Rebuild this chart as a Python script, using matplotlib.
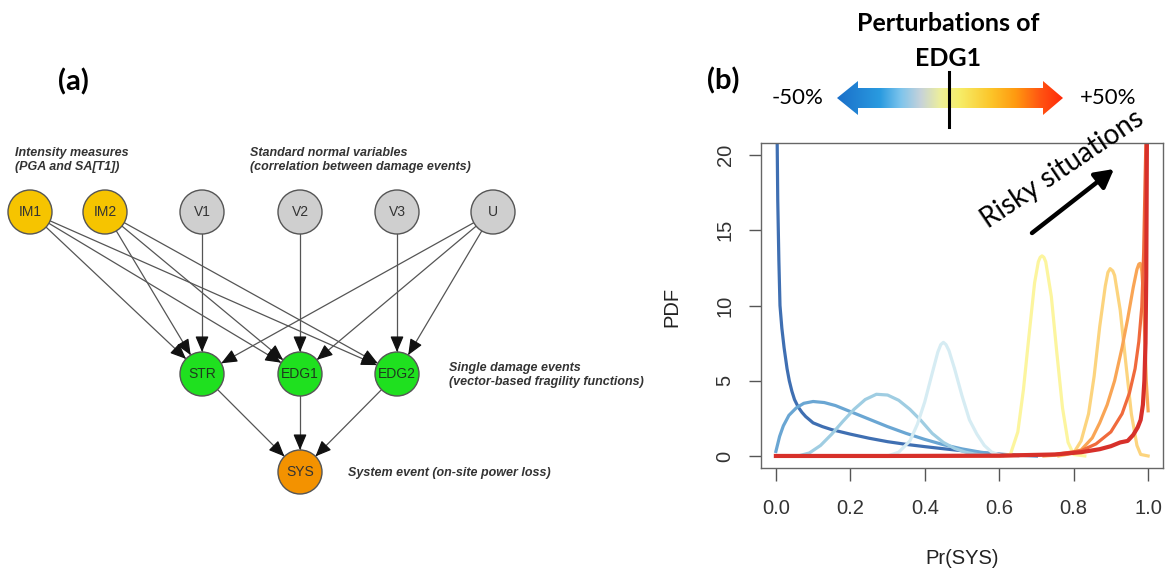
import matplotlib.pyplot as plt
import numpy as np
from matplotlib.colors import LinearSegmentedColormap
from matplotlib.patches import Circle, Polygon

plt.rcParams['font.family'] = ['Liberation Sans', 'DejaVu Sans']

# ---- (a) Bayesian network ----
node_names = ['IM1', 'IM2', 'V1', 'V2', 'V3', 'U', 'STR', 'EDG1', 'EDG2', 'SYS']
node_kind = ['im', 'im', 'snv', 'snv', 'snv', 'snv', 'dmg', 'dmg', 'dmg', 'sys']
edges = [
    ('IM1', 'STR'), ('IM1', 'EDG1'), ('IM1', 'EDG2'),
    ('IM2', 'STR'), ('IM2', 'EDG1'), ('IM2', 'EDG2'),
    ('V1', 'STR'), ('V2', 'EDG1'), ('V3', 'EDG2'),
    ('U', 'STR'), ('U', 'EDG1'), ('U', 'EDG2'),
    ('STR', 'SYS'), ('EDG1', 'SYS'), ('EDG2', 'SYS'),
]
group_notes = [
    'Intensity measures\n(PGA and SA[T1])',
    'Standard normal variables\n(correlation between damage events)',
    'Single damage events\n(vector-based fragility functions)',
    'System event (on-site power loss)',
]

# ---- (b) PDF of Pr(SYS) for perturbations of EDG1, -50% (blue) to +50% (red) ----
pr_m50 = [0.003, 0.005, 0.008, 0.011, 0.016, 0.022, 0.03, 0.036, 0.043, 0.05, 0.06,
          0.07, 0.08, 0.1, 0.125, 0.15, 0.2, 0.25, 0.3, 0.35, 0.4, 0.45, 0.5, 0.55,
          0.6, 0.65, 0.7]
pdf_m50 = [22, 17, 13, 10, 8.5, 7.2, 5.8, 5.0, 4.3, 3.75, 3.25,
           2.9, 2.62, 2.2, 1.95, 1.75, 1.45, 1.18, 0.95, 0.77, 0.62, 0.48, 0.35, 0.22,
           0.12, 0.05, 0.0]

pr_m375 = [0.0, 0.01, 0.02, 0.035, 0.055, 0.075, 0.1, 0.13, 0.16, 0.2, 0.25, 0.3,
           0.35, 0.4, 0.45, 0.5, 0.55, 0.6, 0.65]
pdf_m375 = [0.3, 1.3, 2.0, 2.7, 3.2, 3.5, 3.62, 3.55, 3.35, 2.95, 2.45, 1.95,
            1.5, 1.1, 0.75, 0.47, 0.25, 0.1, 0.02]

pr_m25 = [0.06, 0.09, 0.12, 0.15, 0.18, 0.21, 0.24, 0.27, 0.3, 0.33, 0.36, 0.39,
          0.42, 0.45, 0.48, 0.51, 0.54, 0.57, 0.6]
pdf_m25 = [0.0, 0.2, 0.7, 1.45, 2.3, 3.1, 3.75, 4.1, 4.05, 3.7, 3.1, 2.35,
           1.5, 0.9, 0.5, 0.25, 0.1, 0.03, 0.0]

pr_m125 = [0.3, 0.33, 0.36, 0.38, 0.40, 0.42, 0.435, 0.443, 0.45, 0.457, 0.465, 0.48,
           0.50, 0.52, 0.54, 0.56, 0.58, 0.61]
pdf_m125 = [0.0, 0.25, 1.0, 2.1, 3.6, 5.5, 6.9, 7.4, 7.55, 7.4, 7.0, 5.8,
            4.0, 2.4, 1.45, 0.7, 0.25, 0.0]

pr_0 = [0.6, 0.63, 0.65, 0.665, 0.68, 0.695, 0.705, 0.71, 0.715, 0.72, 0.725, 0.74,
        0.755, 0.77, 0.785, 0.8, 0.83]
pdf_0 = [0, 0.1, 1.6, 4.4, 8.0, 11.5, 12.9, 13.2, 13.3, 13.2, 12.9, 10.6,
         6.8, 3.2, 0.9, 0.1, 0]

pr_p125 = [0.76, 0.8, 0.82, 0.84, 0.855, 0.87, 0.885, 0.892, 0.898, 0.905, 0.91,
           0.925, 0.94, 0.955, 0.97, 0.98, 1.0]
pdf_p125 = [0, 0.2, 1.0, 2.8, 5.3, 8.6, 11.3, 12.2, 12.45, 12.3, 12.0,
            9.7, 6.2, 2.8, 0.7, 0.1, 0]

pr_p25 = [0.72, 0.78, 0.82, 0.85, 0.87, 0.89, 0.91, 0.93, 0.945, 0.96, 0.97,
          0.975, 0.979, 0.983, 0.987, 0.991, 0.995, 1.0]
pdf_p25 = [0, 0.1, 0.4, 1.2, 2.2, 3.4, 5.0, 7.2, 9.1, 11.2, 12.4,
           12.75, 12.8, 12.3, 10.8, 8.0, 5.0, 3.0]

pr_p375 = [0.0, 0.6, 0.75, 0.82, 0.86, 0.9, 0.93, 0.95, 0.965, 0.975, 0.983,
           0.988, 0.992, 0.995]
pdf_p375 = [0, 0, 0.1, 0.35, 0.8, 1.6, 2.8, 4.2, 5.8, 7.6, 9.9,
            13.5, 18.5, 22]

pr_p50 = [0.0, 0.3, 0.6, 0.75, 0.82, 0.87, 0.9, 0.925, 0.945, 0.96, 0.972, 0.98,
          0.986, 0.99, 0.993, 0.995, 0.997]
pdf_p50 = [0, 0, 0.02, 0.1, 0.25, 0.45, 0.65, 0.9, 1.0, 1.4, 1.9, 2.4,
           3.4, 5.0, 7.5, 12, 22]

x_ticks = [0.0, 0.2, 0.4, 0.6, 0.8, 1.0]
y_ticks = [0, 5, 10, 15, 20]

W, H = 1167, 569
fig = plt.figure(figsize=(W / 100, H / 100), dpi=100)

# ---------------- (b) ----------------
ax = fig.add_axes([761 / W, 1 - 468 / H, (1163 - 761) / W, (468 - 143) / H])
curves = [
    (pr_m50, pdf_m50, '#3f6fb2', 2.3),
    (pr_m375, pdf_m375, '#6aa6d3', 2.3),
    (pr_m25, pdf_m25, '#9fcde2', 2.3),
    (pr_m125, pdf_m125, '#d6ecf3', 2.3),
    (pr_0, pdf_0, '#fcf59e', 2.3),
    (pr_p125, pdf_p125, '#fcd47e', 2.3),
    (pr_p25, pdf_p25, '#f9a555', 2.3),
    (pr_p375, pdf_p375, '#f06a3c', 2.3),
    (pr_p50, pdf_p50, '#d7302a', 3.0),
]
for px, py, col, lw in curves:
    ax.plot(px, py, color=col, lw=lw, solid_joinstyle='round')

ax.set_xlim(-0.04, 1.04)
ax.set_ylim(-0.8, 20.8)
ax.set_xticks(x_ticks)
ax.set_xticklabels(['%.1f' % v for v in x_ticks])
ax.set_yticks(y_ticks)
ax.set_yticklabels([str(v) for v in y_ticks], rotation=90, va='center')
ax.tick_params(direction='out', length=9, width=1, color='#555555',
               labelsize=14.5, labelcolor='#333333')
ax.tick_params(axis='x', pad=13)
ax.tick_params(axis='y', pad=10)
for sp in ax.spines.values():
    sp.set_color('#666666')
    sp.set_linewidth(1)

fig.text(672 / W, 1 - 307 / H, 'PDF', rotation=90, ha='center', va='center',
         fontsize=14.5, color='#222222')
fig.text(962 / W, 1 - 558 / H, 'Pr(SYS)', ha='center', va='center',
         fontsize=14.5, color='#222222')

# ---------------- canvas in pixel units ----------------
cv = fig.add_axes([0, 0, 1, 1])
cv.axis('off')

# panel labels
cv.text(73, 82, '(a)', family='Lato', fontweight='bold', fontsize=21,
        ha='center', va='center')
cv.text(723, 81, '(b)', family='Lato', fontweight='bold', fontsize=21,
        ha='center', va='center')

# network nodes
node_x = [30, 105, 202, 300, 397, 493, 202, 300, 397, 300]
node_y = [212, 212, 212, 212, 212, 212, 374, 374, 374, 472]
fill = {'im': '#f6c400', 'snv': '#cfcfcf', 'dmg': '#1fe01f', 'sys': '#f39200'}
r = 22
pos = {n: (x, y) for n, x, y in zip(node_names, node_x, node_y)}

for a, b in edges:
    (x0, y0), (x1, y1) = pos[a], pos[b]
    d = np.hypot(x1 - x0, y1 - y0)
    ux, uy = (x1 - x0) / d, (y1 - y0) / d
    sx, sy = x0 + r * ux, y0 + r * uy
    ex, ey = x1 - r * ux, y1 - r * uy
    cv.plot([sx, ex], [sy, ey], color='#555555', lw=0.9, zorder=1)
    cv.annotate('', xy=(ex, ey), xytext=(ex - 14 * ux, ey - 14 * uy),
                arrowprops=dict(arrowstyle='-|>,head_length=0.8,head_width=0.34',
                                color='#111111', lw=0.9, mutation_scale=12,
                                shrinkA=0, shrinkB=0), zorder=2)

for n, k in zip(node_names, node_kind):
    x, y = pos[n]
    cv.add_patch(Circle((x, y), r, facecolor=fill[k], edgecolor='#555555',
                        lw=1, zorder=3))
    cv.text(x, y, n, ha='center', va='center', fontsize=10,
            color='#1e3a1e' if k == 'dmg' else '#333333', zorder=4)

note_style = dict(fontsize=9, fontweight='bold', style='italic', color='#333333',
                  ha='left', va='center', linespacing=1.3)
cv.text(15, 160, group_notes[0], **note_style)
cv.text(250, 160, group_notes[1], **note_style)
cv.text(449, 375, group_notes[2], **note_style)
cv.text(348, 473, group_notes[3], **note_style)

# perturbation colour arrow
cmap = LinearSegmentedColormap.from_list('pert', [
    (0.0, '#1a6fc9'), (0.19, '#2a9be0'), (0.28, '#7cc4ec'), (0.37, '#c6d2da'),
    (0.46, '#eef09a'), (0.54, '#f6ee6a'), (0.68, '#fcc62a'), (0.79, '#ff9a10'),
    (0.9, '#ff5512'), (1.0, '#ff2a0a')])
grad = np.linspace(0, 1, 256).reshape(1, -1)
im = cv.imshow(grad, cmap=cmap, extent=[837, 1063, 116, 80], aspect='auto', zorder=2)
shape = Polygon([(837, 98), (858, 81), (858, 88), (1043, 88), (1043, 81), (1063, 98),
                 (1043, 115), (1043, 108), (858, 108), (858, 115)],
                closed=True, facecolor='none', edgecolor='none')
cv.add_patch(shape)
im.set_clip_path(shape)
cv.plot([949, 949], [72, 127], color='black', lw=2.2, zorder=3)

cv.text(798, 98, '-50%', family='Lato', fontsize=16, ha='center', va='center')
cv.text(1108, 98, '+50%', family='Lato', fontsize=16, ha='center', va='center')
cv.text(948, 23, 'Perturbations of', family='Lato', fontweight='bold', fontsize=18,
        ha='center', va='center')
cv.text(948, 58, 'EDG1', family='Lato', fontweight='bold', fontsize=18,
        ha='center', va='center')

# risky direction annotation
cv.text(1067, 176, 'Risky situations', family='Lato', fontsize=20, rotation=34,
        rotation_mode='anchor', ha='center', va='baseline')
cv.annotate('', xy=(1114, 169), xytext=(1032, 233),
            arrowprops=dict(arrowstyle='-|>,head_length=0.55,head_width=0.3',
                            color='black', lw=3.2, mutation_scale=20,
                            shrinkA=0, shrinkB=0))

cv.set_xlim(0, W)
cv.set_ylim(H, 0)

fig.savefig('out.png', dpi=100)
